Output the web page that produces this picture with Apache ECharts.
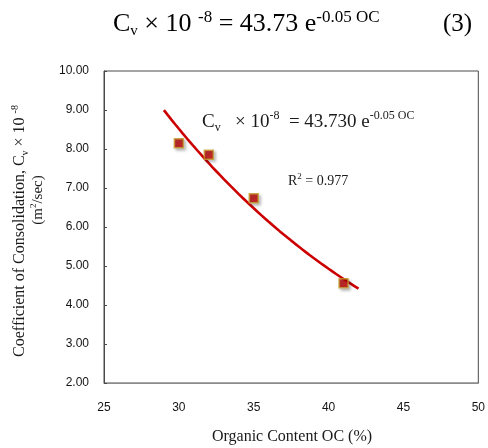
<!DOCTYPE html>
<html>
<head>
<meta charset="utf-8">
<script src="https://cdn.jsdelivr.net/npm/echarts@6/dist/echarts.min.js"></script>
<style>
  html, body { margin: 0; padding: 0; background: #fff; }
  #chart { width: 488px; height: 448px; }
</style>
</head>
<body>
<div id="chart"></div>
<script>
// Measured consolidation coefficients against organic content
const organicContent = [30, 32, 35, 41];            // OC (%)
const cvValues = [8.15, 7.85, 6.74, 4.56];          // Cv × 10^-8 (m²/sec)
const xRange = [25, 50];
const yRange = [2, 10];
const trendSpan = [29, 42];                          // extent of the fitted curve

// Least-squares exponential fit  y = a·e^(b·x)  (linear fit on ln y)
function expFit(xs, ys) {
  const n = xs.length;
  const ly = ys.map(Math.log);
  const mx = xs.reduce((s, v) => s + v, 0) / n;
  const my = ly.reduce((s, v) => s + v, 0) / n;
  let sxy = 0, sxx = 0;
  for (let i = 0; i < n; i++) {
    sxy += (xs[i] - mx) * (ly[i] - my);
    sxx += (xs[i] - mx) * (xs[i] - mx);
  }
  const b = sxy / sxx;
  return { a: Math.exp(my - b * mx), b: b };
}

const fit = expFit(organicContent, cvValues);
const trendData = [];
for (let x = trendSpan[0]; x <= trendSpan[1] + 1e-9; x += 0.25) {
  trendData.push([x, fit.a * Math.exp(fit.b * x)]);
}

const serif = '"Liberation Serif", "Times New Roman", serif';
const sans = '"Liberation Sans", Arial, sans-serif';

const chart = echarts.init(document.getElementById('chart'), null, { renderer: 'canvas' });

chart.setOption({
  animation: false,
  backgroundColor: '#ffffff',
  grid: {
    left: 104, right: 8, top: 71, bottom: 65,
    show: true, borderColor: '#4a4a4a', borderWidth: 1
  },
  xAxis: {
    type: 'value',
    min: xRange[0], max: xRange[1], interval: 5,
    axisLine: { show: true, lineStyle: { color: '#8c8c8c', width: 1 } },
    axisTick: { show: false },
    splitLine: { show: false },
    axisLabel: { margin: 19, fontFamily: sans, fontSize: 12, color: '#141414' }
  },
  yAxis: {
    type: 'value',
    min: yRange[0], max: yRange[1], interval: 1,
    axisLine: { show: true, lineStyle: { color: '#4a4a4a', width: 1 } },
    axisTick: { show: true, inside: true, length: 3, lineStyle: { color: '#4a4a4a' } },
    splitLine: { show: false },
    axisLabel: {
      margin: 15, fontFamily: sans, fontSize: 12, color: '#141414',
      formatter: v => v.toFixed(2)
    }
  },
  series: [
    {
      type: 'line',
      data: trendData,
      showSymbol: false,
      smooth: false,
      lineStyle: { color: '#cc0000', width: 2.6 },
      z: 2
    },
    {
      type: 'scatter',
      data: organicContent.map((x, i) => [x, cvValues[i]]),
      symbol: 'rect',
      symbolSize: 9,
      itemStyle: {
        color: '#c00000',
        borderColor: '#c4a030',
        borderWidth: 1.5,
        shadowColor: 'rgba(0,0,0,0.35)',
        shadowBlur: 3,
        shadowOffsetX: 2,
        shadowOffsetY: 2
      },
      z: 3
    }
  ],
  graphic: [
    {
      type: 'text', x: 113, y: 24,
      style: {
        text: '{m|C}{sub|v}{m| × 10 }{sup|-8}{m| = 43.73 e}{sup|-0.05 OC}',
        textVerticalAlign: 'middle',
        fill: '#000',
        rich: {
          m: { fontFamily: serif, fontSize: 26, lineHeight: 30, fill: '#000' },
          sup: { fontFamily: serif, fontSize: 17, verticalAlign: 'top', lineHeight: 26, fill: '#000' },
          sub: { fontFamily: serif, fontSize: 15, verticalAlign: 'bottom', lineHeight: 18, fill: '#000' }
        }
      }
    },
    {
      type: 'text', x: 443, y: 24,
      style: { text: '(3)', font: '25px ' + serif, fill: '#000', textVerticalAlign: 'middle' }
    },
    {
      type: 'text', x: 202, y: 122, z: 10,
      style: {
        text: '{m|C}{sub|v}{m|   × 10}{sup|-8}{m|  = 43.730 e}{sup|-0.05 OC}',
        textVerticalAlign: 'middle',
        fill: '#1a1a1a',
        rich: {
          m: { fontFamily: serif, fontSize: 19, lineHeight: 24, fill: '#1a1a1a' },
          sup: { fontFamily: serif, fontSize: 12, verticalAlign: 'top', lineHeight: 17, fill: '#1a1a1a' },
          sub: { fontFamily: serif, fontSize: 12, verticalAlign: 'bottom', lineHeight: 15, fill: '#1a1a1a' }
        }
      }
    },
    {
      type: 'text', x: 288, y: 181, z: 10,
      style: {
        text: '{m|R}{sup|2}{m| = 0.977}',
        textVerticalAlign: 'middle',
        fill: '#1a1a1a',
        rich: {
          m: { fontFamily: serif, fontSize: 14, lineHeight: 18, fill: '#1a1a1a' },
          sup: { fontFamily: serif, fontSize: 9, verticalAlign: 'top', lineHeight: 12, fill: '#1a1a1a' }
        }
      }
    },
    {
      type: 'text', x: 20, y: 231, rotation: Math.PI / 2,
      style: {
        text: '{m|Coefficient of Consolidation, C}{sub|v}{m| × 10 }{sup|-8}',
        textAlign: 'center', textVerticalAlign: 'middle',
        fill: '#1a1a1a',
        rich: {
          m: { fontFamily: serif, fontSize: 16, lineHeight: 20, fill: '#1a1a1a' },
          sup: { fontFamily: serif, fontSize: 10, verticalAlign: 'top', lineHeight: 12, fill: '#1a1a1a' },
          sub: { fontFamily: serif, fontSize: 10, verticalAlign: 'bottom', lineHeight: 12, fill: '#1a1a1a' }
        }
      }
    },
    {
      type: 'text', x: 38, y: 200, rotation: Math.PI / 2,
      style: {
        text: '{m|(m}{sup|2}{m|/sec)}',
        textAlign: 'center', textVerticalAlign: 'middle',
        fill: '#1a1a1a',
        rich: {
          m: { fontFamily: serif, fontSize: 15, lineHeight: 18, fill: '#1a1a1a' },
          sup: { fontFamily: serif, fontSize: 9, verticalAlign: 'top', lineHeight: 11, fill: '#1a1a1a' }
        }
      }
    },
    {
      type: 'text', x: 292, y: 437,
      style: {
        text: 'Organic Content OC (%)',
        font: '16px ' + serif, fill: '#1a1a1a',
        textAlign: 'center', textVerticalAlign: 'middle'
      }
    }
  ]
});
</script>
</body>
</html>
